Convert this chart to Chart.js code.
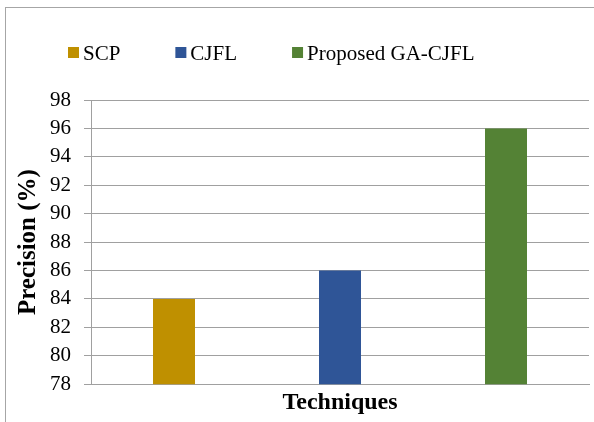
<!DOCTYPE html>
<html>
<head>
<meta charset="utf-8">
<script src="https://cdn.jsdelivr.net/npm/chart.js@4/dist/chart.umd.min.js"></script>
<style>
  html, body { margin: 0; padding: 0; background: #fff; overflow: hidden; }
  canvas { display: block; }
</style>
</head>
<body>
<canvas id="c" width="594" height="422"></canvas>
<script>
// Precision of each technique (single group, one bar per technique)
const categories = [''];
const seriesNames = ['SCP', 'CJFL', 'Proposed GA-CJFL'];
const scpValues = [84];
const cjflValues = [86];
const gaCjflValues = [96];
const seriesColors = ['#BF9000', '#2F5597', '#548235'];
const yMin = 78, yMax = 98, yStep = 2;
const yTitle = 'Precision (%)';
const xTitle = 'Techniques';

const serif = '"Liberation Serif", "Times New Roman", serif';

// Outer chart frame (only its left and top edges fall inside the canvas)
const outerFrame = {
  id: 'outerFrame',
  beforeDraw(chart) {
    const ctx = chart.ctx;
    ctx.save();
    ctx.fillStyle = '#a6a6a6';
    ctx.fillRect(5, 7, 1, chart.height - 7);
    ctx.fillRect(5, 7, chart.width - 5, 1);
    ctx.restore();
  }
};

// Legend row drawn across the top of the chart
const topLegend = {
  id: 'topLegend',
  afterDraw(chart) {
    const ctx = chart.ctx;
    ctx.save();
    ctx.font = '21px ' + serif;
    ctx.textBaseline = 'alphabetic';
    let x = 68;
    chart.data.datasets.forEach(ds => {
      ctx.fillStyle = ds.backgroundColor;
      ctx.fillRect(x, 47, 11, 11);
      ctx.fillStyle = '#000';
      ctx.fillText(ds.label, x + 15, 60);
      x += 15 + ctx.measureText(ds.label).width + 55;
    });
    ctx.restore();
  }
};

const values = [scpValues, cjflValues, gaCjflValues];

new Chart(document.getElementById('c'), {
  type: 'bar',
  data: {
    labels: categories,
    datasets: seriesNames.map((name, i) => ({
      label: name,
      data: values[i],
      backgroundColor: seriesColors[i],
      borderWidth: 0,
      barPercentage: 0.253,
      categoryPercentage: 1.0
    }))
  },
  options: {
    responsive: false,
    animation: false,
    layout: { padding: { top: 100, right: 5, left: 0, bottom: 0 } },
    plugins: {
      legend: { display: false },
      tooltip: { enabled: false }
    },
    scales: {
      x: {
        ticks: { display: false },
        grid: { display: false, drawTicks: false },
        border: { color: '#a0a0a0' },
        title: {
          display: true,
          text: xTitle,
          color: '#000',
          font: { family: serif, size: 24, weight: 'bold' },
          padding: { top: 4, bottom: 5 }
        }
      },
      y: {
        min: yMin,
        max: yMax,
        ticks: {
          stepSize: yStep,
          color: '#000',
          font: { family: serif, size: 21 },
          padding: 13
        },
        grid: { color: '#a0a0a0', tickLength: 7 },
        border: { color: '#a0a0a0' },
        title: {
          display: true,
          text: yTitle,
          color: '#000',
          font: { family: serif, size: 25, weight: 'bold' },
          padding: { top: 14, bottom: 0 }
        },
        afterFit(scale) { scale.width = 91; }
      }
    }
  },
  plugins: [outerFrame, topLegend]
});
</script>
</body>
</html>
